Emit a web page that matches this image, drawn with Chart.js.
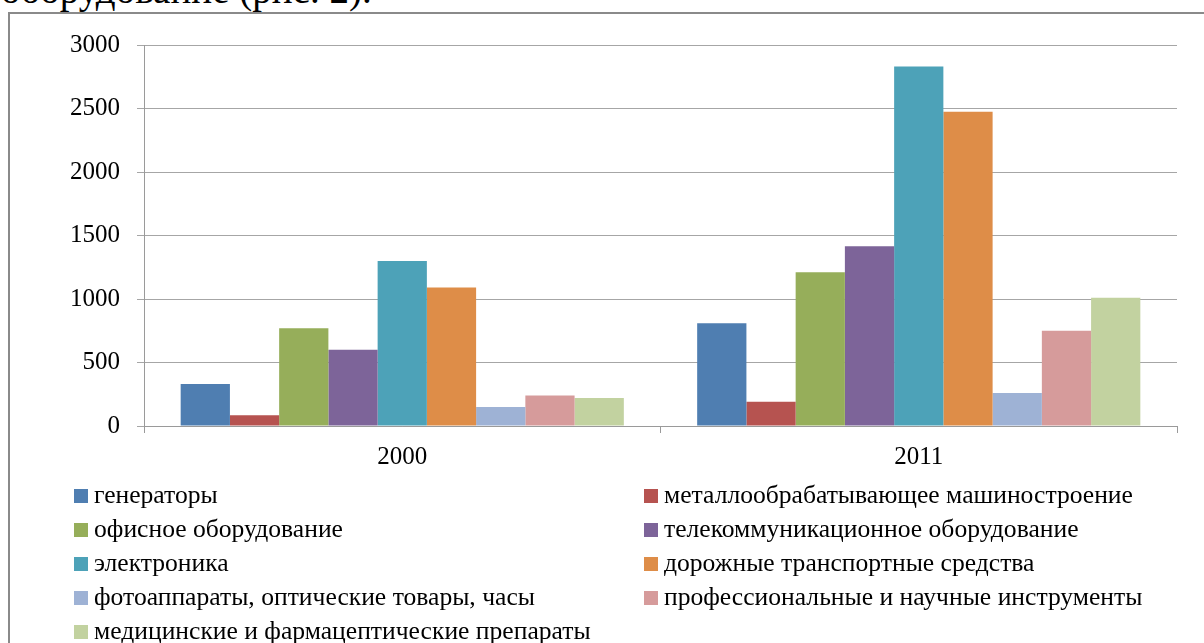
<!DOCTYPE html>
<html lang="ru">
<head>
<meta charset="utf-8">
<title>Экспорт высокотехнологичной продукции, 2000 и 2011</title>
<script src="https://cdn.jsdelivr.net/npm/chart.js@4.4.1/dist/chart.umd.min.js"></script>
<style>
  html, body { margin: 0; padding: 0; background: #fff; }
  body { width: 1204px; height: 643px; overflow: hidden; position: relative; font-family: "Liberation Serif", "Times New Roman", serif; }
  #caption {
    position: absolute; left: 1px; top: -30px;
    font-size: 39px; line-height: 40px; color: #000; white-space: nowrap;
  }
  #frame {
    position: absolute; left: 8px; top: 12px; width: 1300px; height: 700px;
    border-left: 2px solid #8a8a8a; border-top: 2px solid #8a8a8a;
    box-sizing: border-box;
  }
  #chartBox { position: absolute; left: 0; top: 0; width: 1204px; height: 480px; }
  #legend {
    position: absolute; left: 0; top: 478px; width: 1204px;
    font-size: 25.6px; color: #000;
  }
  .item { position: absolute; height: 34px; line-height: 34px; white-space: nowrap; }
  .item .sw { position: absolute; top: 11px; width: 14px; height: 14px; }
  .item .tx { position: absolute; left: 20px; top: 0; }
</style>
</head>
<body>
<div id="caption">оборудование (рис. 2).</div>
<div id="frame"></div>
<div id="chartBox"><canvas id="chart" width="1204" height="480"></canvas></div>
<div id="legend"></div>
<script>
// Годы
const categories = ['2000', '2011'];

// Названия групп товаров
const seriesNames = [
  'генераторы',
  'металлообрабатывающее машиностроение',
  'офисное оборудование',
  'телекоммуникационное оборудование',
  'электроника',
  'дорожные транспортные средства',
  'фотоаппараты, оптические товары, часы',
  'профессиональные и научные инструменты',
  'медицинские и фармацептические препараты'
];

// Значения по годам (2000, 2011)
const generators   = [330, 810];
const metalworking = [85, 190];
const office       = [770, 1210];
const telecom      = [600, 1415];
const electronics  = [1300, 2830];
const vehicles     = [1090, 2475];
const optics       = [150, 260];
const instruments  = [240, 750];
const pharma       = [220, 1010];

// Деления оси значений
const yTicks = [0, 500, 1000, 1500, 2000, 2500, 3000];

const seriesValues = [generators, metalworking, office, telecom, electronics, vehicles, optics, instruments, pharma];
const seriesColors = ['#4F7EB1', '#B65350', '#96AE5A', '#7D6499', '#4DA2B8', '#DE8D48', '#9EB2D5', '#D69B9B', '#C2D2A0'];

const datasets = seriesNames.map((name, i) => ({
  label: name,
  data: seriesValues[i],
  backgroundColor: seriesColors[i],
  borderWidth: 0,
  barPercentage: 1.0,
  categoryPercentage: 0.858
}));

const tickFont = { family: '"Liberation Serif", "Times New Roman", serif', size: 25 };

new Chart(document.getElementById('chart'), {
  type: 'bar',
  data: { labels: categories, datasets },
  options: {
    responsive: false,
    animation: false,
    devicePixelRatio: 1,
    layout: { padding: { left: 0, right: 27, top: 45, bottom: 0 } },
    plugins: { legend: { display: false }, tooltip: { enabled: false } },
    scales: {
      x: {
        grid: { offset: true, drawOnChartArea: false, drawTicks: true, tickLength: 7, color: '#9a9a9a', lineWidth: 1 },
        border: { display: true, color: '#9a9a9a', width: 1 },
        ticks: { color: '#000', font: tickFont, padding: 9 },
        afterFit: s => { s.height = 54; }
      },
      y: {
        min: 0, max: 3000,
        afterBuildTicks: s => { s.ticks = yTicks.map(v => ({ value: v })); },
        grid: { color: '#a6a6a6', lineWidth: 1, tickLength: 7 },
        border: { display: true, color: '#9a9a9a', width: 1 },
        ticks: { color: '#000', font: tickFont, padding: 17, callback: v => String(v) },
        afterFit: s => { s.width = 144; }
      }
    }
  }
});

// Легенда в две колонки
const legend = document.getElementById('legend');
const colX = [74, 644];
seriesNames.forEach((name, i) => {
  const el = document.createElement('div');
  el.className = 'item';
  el.style.left = colX[i % 2] + 'px';
  el.style.top = (Math.floor(i / 2) * 34) + 'px';
  el.innerHTML = '<span class="sw"></span><span class="tx"></span>';
  el.querySelector('.sw').style.background = seriesColors[i];
  el.querySelector('.tx').textContent = name;
  legend.appendChild(el);
});
</script>
</body>
</html>
